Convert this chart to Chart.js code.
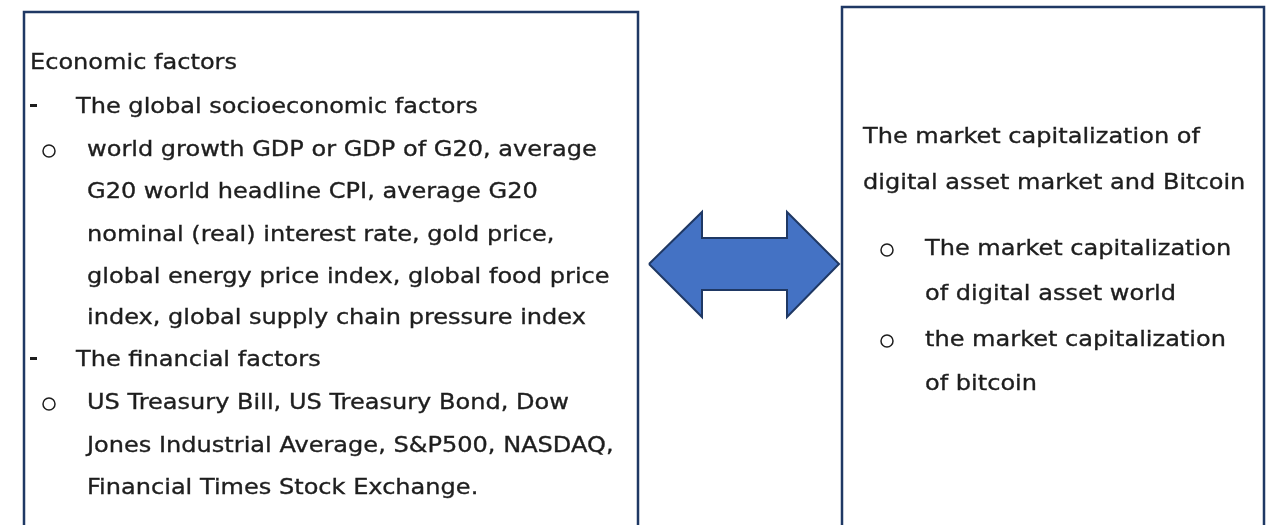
<!DOCTYPE html>
<html>
<head>
<meta charset="utf-8">
<script src="https://cdn.jsdelivr.net/npm/chart.js@4.4.0/dist/chart.umd.min.js"></script>
<style>
  body { margin: 0; background: #fff; }
  #diagram { display: block; }
</style>
</head>
<body>
<canvas id="diagram" width="1266" height="525"></canvas>
<script>
// text of the two boxes
const leftText = [
  'Economic factors',
  'The global socioeconomic factors',
  'world growth GDP or GDP of G20, average',
  'G20 world headline CPI, average G20',
  'nominal (real) interest rate, gold price,',
  'global energy price index, global food price',
  'index, global supply chain pressure index',
  'The financial factors',
  'US Treasury Bill, US Treasury Bond, Dow',
  'Jones Industrial Average, S&P500, NASDAQ,',
  'Financial Times Stock Exchange.'
]
const leftMarks = ['', '-', 'o', '', '', '', '', '-', 'o', '', '']
const leftLevel = [0, 1, 2, 2, 2, 2, 2, 1, 2, 2, 2]
const leftRowY = [63, 107, 150, 192, 235, 277, 318, 360, 403, 446, 488]

const rightText = [
  'The market capitalization of',
  'digital asset market and Bitcoin',
  'The market capitalization',
  'of digital asset world',
  'the market capitalization',
  'of bitcoin'
]
const rightMarks = ['', '', 'o', '', 'o', '']
const rightLevel = [0, 0, 2, 2, 2, 2]
const rightRowY = [137, 183, 249, 294, 340, 384]

// shapes in page units (x right, y down)
const leftBox = [[24, 540], [24, 12], [638, 12], [638, 540]]
const rightBox = [[842, 540], [842, 7], [1264, 7], [1264, 540]]
const arrow = [[649, 264], [702, 212], [702, 238], [787, 238], [787, 212],
  [839, 264], [787, 317], [787, 290], [702, 290], [702, 317], [649, 264]]

const navy = '#1f3864'
const ink = '#1e1e1e'
const pts = a => a.map(p => ({x: p[0], y: p[1]}))

const textPlugin = {
  id: 'boxText',
  afterDatasetsDraw(chart) {
    const ctx = chart.ctx
    const xs = chart.scales.x
    const ys = chart.scales.y
    ctx.save()
    ctx.fillStyle = ink
    ctx.strokeStyle = ink
    ctx.textBaseline = 'middle'
    ctx.font = '22px "DejaVu Sans"'
    // the original face is wide; stretch to the width of one sample line
    const stretch = 337 / ctx.measureText(rightText[0]).width
    const put = (t, x, y) => {
      ctx.save()
      ctx.translate(x, y)
      ctx.scale(stretch, 1)
      ctx.lineWidth = 0.35
      ctx.fillText(t, 0, 0)
      ctx.strokeText(t, 0, 0)
      ctx.restore()
    }
    const drawBlock = (texts, marks, levels, rows, xl, dashX, circX) => {
      texts.forEach((t, i) => {
        const y = ys.getPixelForValue(rows[i])
        put(t, xs.getPixelForValue(xl[levels[i]]), y)
        if (marks[i] === '-') {
          ctx.fillRect(xs.getPixelForValue(dashX), y - 3, 7, 3)
        } else if (marks[i] === 'o') {
          ctx.lineWidth = 1.5
          ctx.beginPath()
          ctx.arc(xs.getPixelForValue(circX), y + 1, 6, 0, Math.PI * 2)
          ctx.stroke()
        }
      })
    }
    drawBlock(leftText, leftMarks, leftLevel, leftRowY, [30, 76, 87], 30, 49)
    drawBlock(rightText, rightMarks, rightLevel, rightRowY, [863, 925, 925], 0, 887)
    ctx.restore()
  }
}

new Chart(document.getElementById('diagram'), {
  type: 'scatter',
  data: {
    datasets: [
      {data: pts(leftBox), showLine: true, borderColor: navy, borderWidth: 2.5, pointRadius: 0, tension: 0},
      {data: pts(rightBox), showLine: true, borderColor: navy, borderWidth: 2.5, pointRadius: 0, tension: 0},
      {data: pts(arrow), showLine: true, borderColor: navy, borderWidth: 2, pointRadius: 0, tension: 0,
        fill: 'shape', backgroundColor: '#4472c4'}
    ]
  },
  options: {
    responsive: false,
    animation: false,
    events: [],
    layout: {padding: 0},
    plugins: {legend: {display: false}, tooltip: {enabled: false}},
    scales: {
      x: {type: 'linear', display: false, min: 0, max: 1266},
      y: {type: 'linear', display: false, min: 0, max: 525, reverse: true}
    }
  },
  plugins: [textPlugin]
})
</script>
</body>
</html>
